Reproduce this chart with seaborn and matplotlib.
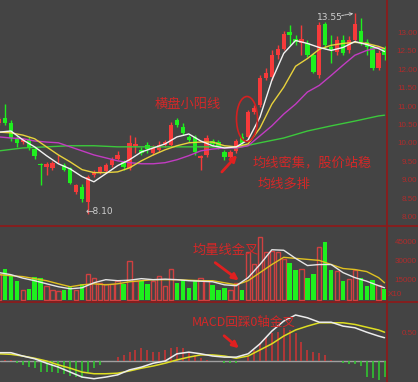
import numpy as np
import matplotlib
matplotlib.use('Agg')
import matplotlib.pyplot as plt
import seaborn as sns
from matplotlib.patches import Ellipse, FancyArrowPatch
from matplotlib.transforms import blended_transform_factory

sns.set_theme(style='dark')
plt.rcParams['font.family'] = ['Noto Sans CJK SC', 'DejaVu Sans']

# ---------------- data ----------------
opens = [10.57, 10.70, 10.57, 10.14, 10.05, 10.11, 9.86, 9.45, 9.38, 9.35, 9.55, 9.43, 9.35, 8.70, 8.84, 8.43,
         9.16, 9.22, 9.26, 9.43, 9.60, 9.51, 9.35, 9.95, 9.84, 9.97, 9.76, 9.84, 9.97, 9.97, 10.65, 10.46,
         10.19, 10.19, 9.62, 9.70, 10.08, 10.05, 9.78, 9.65, 9.81, 10.19, 10.19, 10.86, 11.05, 11.78, 11.81,
         12.41, 12.59, 13.03, 12.86, 12.73, 12.73, 12.41, 11.86, 13.25, 12.62, 12.49, 12.81, 12.54, 12.81,
         13.08, 12.76, 12.62, 12.05, 12.59]
closes = [10.68, 10.57, 10.16, 10.03, 10.11, 9.89, 9.68, 9.42, 9.46, 9.49, 9.57, 9.30, 8.95, 8.89, 8.49, 9.11,
          9.24, 9.38, 9.43, 9.57, 9.70, 9.38, 10.03, 10.00, 9.76, 9.86, 9.89, 9.97, 10.05, 10.51, 10.51, 10.30,
          10.11, 9.78, 9.68, 10.16, 10.00, 9.92, 9.65, 9.78, 10.08, 10.03, 10.86, 10.97, 11.78, 11.92, 12.41,
          12.59, 13.00, 12.95, 12.76, 12.86, 12.41, 11.95, 13.22, 12.68, 12.54, 12.81, 12.46, 12.81, 13.27,
          12.76, 12.62, 12.05, 12.46, 12.41]
highs = [10.72, 11.08, 10.65, 10.22, 10.16, 10.19, 9.92, 9.49, 9.51, 9.54, 9.70, 9.49, 9.38, 8.92, 8.92, 9.16,
         9.30, 9.41, 9.49, 9.65, 9.80, 9.57, 10.24, 10.19, 9.92, 10.05, 9.97, 10.08, 10.11, 10.59, 10.70, 10.57,
         10.24, 10.24, 9.70, 10.24, 10.14, 10.11, 9.84, 9.84, 10.14, 10.30, 10.92, 11.05, 11.86, 12.05, 12.54,
         12.70, 13.08, 13.22, 12.95, 13.22, 12.81, 12.46, 13.30, 13.30, 12.95, 12.92, 12.95, 12.92, 13.55,
         13.43, 12.86, 12.68, 12.54, 12.65]
lows = [10.52, 10.51, 10.08, 9.92, 10.00, 9.84, 9.59, 8.89, 9.16, 9.30, 9.49, 9.25, 8.92, 8.65, 8.43, 8.10,
        9.10, 9.18, 9.22, 9.38, 9.55, 9.30, 9.30, 9.76, 9.70, 9.76, 9.70, 9.78, 9.92, 9.92, 10.46, 10.24,
        10.05, 9.70, 9.30, 9.65, 9.95, 9.86, 9.57, 9.60, 9.76, 9.97, 10.14, 10.81, 11.00, 11.73, 11.73,
        12.30, 12.54, 12.68, 12.68, 12.41, 12.35, 11.92, 11.78, 12.59, 12.19, 12.41, 12.41, 12.46, 12.76,
        12.68, 12.41, 12.00, 12.00, 12.27]
volumes = [20000, 23900, 18700, 14700, 8100, 8900, 18200, 17400, 10800, 8100, 6900, 7400, 10800, 8100, 12100,
           20000, 17400, 13400, 12100, 12100, 14700, 12100, 30500, 14700, 14700, 12600, 14700, 18700, 10800,
           23900, 13400, 15200, 9500, 15200, 17400, 14700, 11600, 8100, 9500, 8100, 13400, 8100, 37100, 27900,
           48900, 37100, 38400, 37100, 31800, 28400, 23200, 23900, 17400, 20000, 41600, 45000, 23200, 22700,
           14700, 16000, 23200, 17400, 10800, 15200, 11600, 8700]
macd_hist = [0.02, 0.02, 0.01, -0.04, -0.07, -0.10, -0.13, -0.19, -0.19, -0.19, -0.22, -0.23, -0.27, -0.29,
             -0.31, -0.19, -0.13, -0.07, 0.0, 0.0, 0.08, 0.11, 0.17, 0.20, 0.23, 0.20, 0.17, 0.17, 0.20, 0.23,
             0.26, 0.23, 0.17, 0.11, 0.05, 0.02, 0.0, 0.0, -0.04, -0.04, -0.04, 0.0, 0.08, 0.20, 0.32, 0.44,
             0.50, 0.53, 0.59, 0.56, 0.50, 0.35, 0.20, 0.17, 0.14, 0.11, 0.02, 0.0, -0.04, -0.05, -0.06, -0.09,
             -0.28, -0.31, -0.34, -0.28]

ma_x = list(range(0, 65, 2)) + [65]
ma5 = [10.32, 10.35, 10.11, 9.92, 9.68, 9.46, 9.32, 9.11, 8.97, 9.19, 9.41, 9.57, 9.78, 9.89, 10.00, 10.19,
       10.27, 10.08, 9.95, 9.89, 9.92, 10.11, 10.73, 11.73, 12.46, 12.81, 12.73, 12.62, 12.54, 12.62, 12.78,
       12.70, 12.59, 12.51]
ma10 = [10.32, 10.30, 10.24, 10.14, 9.92, 9.70, 9.51, 9.30, 9.22, 9.22, 9.24, 9.35, 9.54, 9.70, 9.84, 9.95,
        10.03, 10.05, 10.05, 9.95, 9.92, 10.00, 10.43, 11.08, 11.54, 12.11, 12.32, 12.57, 12.68, 12.73, 12.76,
        12.73, 12.65, 12.59]
ma20 = [10.19, 10.16, 10.14, 10.08, 10.05, 10.03, 9.92, 9.81, 9.70, 9.62, 9.54, 9.49, 9.46, 9.46, 9.49, 9.57,
        9.68, 9.81, 9.86, 9.89, 9.89, 9.95, 10.22, 10.49, 10.81, 11.08, 11.41, 11.59, 11.86, 12.14, 12.41,
        12.54, 12.62, 12.59]
ma60_x = [0, 4, 8, 12, 16, 20, 24, 28, 32, 36, 40, 44, 48, 52, 56, 60, 64, 65]
ma60 = [9.81, 9.89, 9.92, 9.95, 9.95, 9.92, 9.92, 9.92, 9.92, 9.92, 9.89, 10.03, 10.16, 10.35, 10.49, 10.62,
        10.76, 10.78]
vma5 = [21300, 19700, 17000, 15000, 12600, 10300, 8700, 9500, 13400, 15800, 15000, 15400, 16600, 15800, 16200,
        15800, 15000, 14600, 14200, 11800, 11100, 17400, 27600, 39100, 38700, 32400, 26800, 27600, 27600, 21300,
        17400, 14600, 11100, 9500]
vma10 = [19700, 18900, 18200, 16600, 15000, 12600, 10300, 11800, 12600, 11800, 12600, 14200, 15000, 15800,
         15800, 15800, 15400, 15000, 15000, 13400, 11800, 15000, 21300, 27600, 33200, 32400, 31600, 30800,
         27600, 24500, 23700, 22100, 17400, 13400]
dif = [0.15, 0.15, 0.09, 0.04, -0.04, -0.11, -0.20, -0.29, -0.32, -0.29, -0.25, -0.16, -0.11, -0.04, 0.00,
       0.13, 0.16, 0.13, 0.09, 0.07, 0.07, 0.13, 0.31, 0.54, 0.72, 0.83, 0.78, 0.70, 0.70, 0.63, 0.60, 0.52,
       0.45, 0.42]
dea = [0.13, 0.12, 0.09, 0.05, 0.00, -0.07, -0.13, -0.20, -0.23, -0.23, -0.22, -0.18, -0.13, -0.09, -0.04,
       0.02, 0.07, 0.11, 0.11, 0.09, 0.05, 0.09, 0.20, 0.31, 0.45, 0.56, 0.63, 0.69, 0.69, 0.69, 0.66, 0.61,
       0.56, 0.52]

price_ticks = [13.00, 12.50, 12.00, 11.50, 11.00, 10.50, 10.00, 9.50, 9.00, 8.50, 8.00]
vol_ticks = [45000, 30000, 15000]
macd_ticks = [0.50]

# ---------------- style ----------------
BG = '#444444'
RED = '#f63a3a'
GRN = '#1ef01e'
VRED = '#d04040'
LINE = '#8a1c1c'
LAB = '#b02c2c'
ANN = '#d42828'
W, H = 418, 382

fig = plt.figure(figsize=(W / 100, H / 100), dpi=100, facecolor=BG)


def box(x0, y0, x1, y1):
    return [x0 / W, 1 - y1 / H, (x1 - x0) / W, (y1 - y0) / H]


def fp(x, y):
    return (x / W, 1 - y / H)


ax1 = fig.add_axes(box(0, 0, 386, 226))
ax2 = fig.add_axes(box(0, 227, 386, 301))
ax3 = fig.add_axes(box(0, 302, 386, 382))

xlim = (0.157, 65.25)
for ax in (ax1, ax2, ax3):
    ax.set_facecolor(BG)
    ax.set_xlim(*xlim)
    for s in ax.spines.values():
        s.set_visible(False)
    ax.set_xticks([])
    ax.set_yticks([])
    ax.grid(False)

idx = np.arange(len(opens))
o = np.array(opens); c = np.array(closes)
up = c >= o
cols = np.where(up, RED, GRN)

# candles
ax1.vlines(idx, lows, highs, colors=cols, lw=1)
bot = np.minimum(o, c)
hgt = np.maximum(np.abs(c - o), 0.025)
ax1.bar(idx, hgt, bottom=bot, width=0.74, color=cols, linewidth=0)
sns.lineplot(x=ma60_x, y=ma60, ax=ax1, color='#3cc83c', lw=1, legend=False)
sns.lineplot(x=ma_x, y=ma20, ax=ax1, color='#c23cc2', lw=1, legend=False)
sns.lineplot(x=ma_x, y=ma10, ax=ax1, color='#e8d23c', lw=1, legend=False)
sns.lineplot(x=ma_x, y=ma5, ax=ax1, color='#f2f2f2', lw=1, legend=False)
ax1.set_ylim(8 - 8.5 / 36.8, 8 + 217.5 / 36.8)
ax1.set_xlabel(''); ax1.set_ylabel('')

# volume
v = np.array(volumes)
ax2.bar(idx[up], v[up], width=0.74, facecolor='none', edgecolor=VRED, lw=1)
ax2.bar(idx[~up], v[~up], width=0.74, color=GRN, lw=0)
sns.lineplot(x=ma_x, y=vma10, ax=ax2, color='#e0c020', lw=1, legend=False)
sns.lineplot(x=ma_x, y=vma5, ax=ax2, color='#e6e6e6', lw=1, legend=False)
ax2.set_ylim(-800, 56800)
ax2.set_xlabel(''); ax2.set_ylabel('')

# macd
mh = np.array(macd_hist)
mcols = np.where(mh >= 0, '#d03434', '#2ed02e')
ax3.axhline(0, color='#a0a0a0', lw=1)
ax3.vlines(idx, 0, mh, colors=mcols, lw=1.1)
sns.lineplot(x=ma_x, y=dea, ax=ax3, color='#dede22', lw=1.1, legend=False)
sns.lineplot(x=ma_x, y=dif, ax=ax3, color='#ececec', lw=1.1, legend=False)
ax3.set_ylim((361 - 382) / 55.4, (361 - 302) / 55.4)
ax3.set_xlabel(''); ax3.set_ylabel('')

# separators
fig.add_artist(plt.Line2D([0, 1], [1 - 226.5 / H] * 2, color=LINE, lw=1.3, transform=fig.transFigure))
fig.add_artist(plt.Line2D([0, 1], [1 - 301.5 / H] * 2, color=LINE, lw=1.3, transform=fig.transFigure))
fig.add_artist(plt.Line2D([386.5 / W] * 2, [0, 1], color=LINE, lw=1.3, transform=fig.transFigure))

# right-side labels
lab_font = dict(family=['Liberation Sans', 'DejaVu Sans'], fontsize=5.8, color=LAB, va='center', clip_on=False)
t1 = blended_transform_factory(fig.transFigure, ax1.transData)
for p in price_ticks:
    fig.text(417 / W, p, f'{p:.2f}', transform=t1, ha='right', **lab_font)
t2 = blended_transform_factory(fig.transFigure, ax2.transData)
for q in vol_ticks:
    fig.text(417 / W, q, f'{q}', transform=t2, ha='right', **lab_font)
fig.text(388 / W, 1 - 294 / H, 'X10', ha='left', **lab_font)
t3 = blended_transform_factory(fig.transFigure, ax3.transData)
for m in macd_ticks:
    fig.text(417 / W, m, f'{m:.2f}', transform=t3, ha='right', **lab_font)

# price markers
fig.text(*fp(86, 212), '←8.10', fontsize=6.5, color='#cfcfcf', ha='left', va='center',
         family=['DejaVu Sans'])
fig.text(*fp(317, 17), '13.55', fontsize=6.5, color='#cfcfcf', ha='left', va='center',
         family=['DejaVu Sans'])
fig.add_artist(FancyArrowPatch(fp(339, 16), fp(356, 13), transform=fig.transFigure, arrowstyle='->',
                               mutation_scale=5, color='#cfcfcf', lw=0.7, linestyle=(0, (2, 1))))

# annotations
ann_font = dict(fontsize=9.5, color=ANN, ha='left', va='center')
fig.text(*fp(155, 104), '横盘小阳线', **ann_font)
fig.text(*fp(253, 163), '均线密集，股价站稳', **ann_font)
fig.text(*fp(258, 184), '均线多排', **ann_font)
fig.text(*fp(193, 250), '均量线金叉', **ann_font)
fig.text(*fp(192, 322), 'MACD回踩0轴金叉', fontsize=9, color=ANN, ha='left', va='center')

fig.add_artist(Ellipse(fp(247, 119), 21 / W, 45 / H, transform=fig.transFigure, fill=False,
                       edgecolor='#d42020', lw=1.2))
for a, b in [((220, 174), (239, 153)), ((213, 261), (241, 282)), ((222, 334), (241, 350))]:
    fig.add_artist(FancyArrowPatch(fp(*a), fp(*b), transform=fig.transFigure, arrowstyle='-|>',
                                   mutation_scale=9, color='#e02020', lw=2))

fig.savefig('out.png', dpi=100, facecolor=BG)
